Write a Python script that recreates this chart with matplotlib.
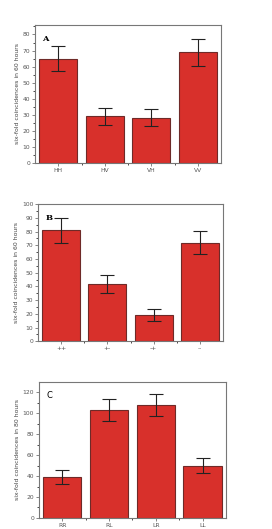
import matplotlib.pyplot as plt
import numpy as np

# panel A
labels_a = ['HH', 'HV', 'VH', 'VV']
counts_a = [65, 29, 28, 69]
err_a = [8, 5.5, 5.3, 8.5]

# panel B
labels_b = ['++', '+-', '-+', '--']
counts_b = [81, 42, 19, 72]
err_b = [9, 6.5, 4.5, 8.5]

# panel C
labels_c = ['RR', 'RL', 'LR', 'LL']
counts_c = [39, 103, 108, 50]
err_c = [6.5, 10.3, 10.3, 7]

panels = [
    ('A', labels_a, counts_a, err_a, 86, 10, 'six-fold coincidences in 60 hours', [0.129, 0.692, 0.684, 0.261], 'serif'),
    ('B', labels_b, counts_b, err_b, 100, 10, 'six-fold coincidences in 60 hours', [0.140, 0.355, 0.680, 0.259], 'serif'),
    ('C', labels_c, counts_c, err_c, 130, 20, 'six-fold coincidences in 80 hours', [0.143, 0.021, 0.688, 0.257], 'sans-serif'),
]

fig = plt.figure(figsize=(2.72, 5.29), dpi=100)

for letter, labels, counts, errs, ymax, step, ylab, rect, lfam in panels:
    ax = fig.add_axes(rect)
    x = np.arange(1, len(labels) + 1)
    ax.bar(x, counts, width=0.82, color='#d8302b', edgecolor='#6e2a28', linewidth=0.8)
    ax.errorbar(x, counts, yerr=errs, fmt='none', ecolor='#222222', elinewidth=0.8,
                capsize=5, capthick=0.8)
    ax.set_xlim(0.5, 4.5)
    ax.set_ylim(0, ymax)
    ax.set_xticks(x)
    ax.set_xticklabels(labels)
    ax.set_xticks(np.arange(1.5, 4.5, 1), minor=True)
    ax.set_yticks(np.arange(0, ymax + 0.1, step))
    ax.set_yticks(np.arange(step / 2, ymax, step), minor=True)
    ax.tick_params(labelsize=4.3, length=2, width=0.5, pad=1.5, colors='#555555')
    ax.tick_params(which='minor', length=1.2, width=0.5)
    ax.set_ylabel(ylab, fontsize=4.4, labelpad=2, color='#444444')
    for s in ax.spines.values():
        s.set_color('#777777')
        s.set_linewidth(0.8)
    ax.text(0.04, 0.93, letter, transform=ax.transAxes, fontsize=6,
            fontweight='bold' if lfam == 'serif' else 'normal', family=lfam,
            va='top', ha='left')

fig.savefig('out.png', dpi=100)
